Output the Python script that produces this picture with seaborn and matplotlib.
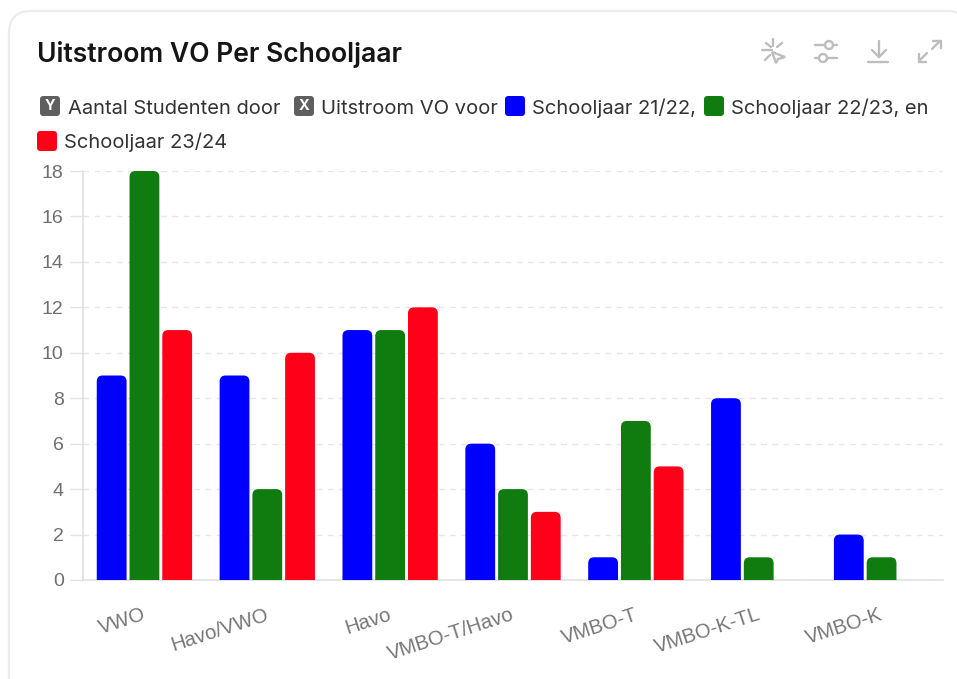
import matplotlib
matplotlib.use("Agg")
import matplotlib.pyplot as plt
from matplotlib.patches import FancyBboxPatch, Circle, Polygon
from matplotlib.transforms import IdentityTransform, ScaledTranslation
import pandas as pd
import seaborn as sns

categories = ["VWO", "Havo/VWO", "Havo", "VMBO-T/Havo", "VMBO-T", "VMBO-K-TL", "VMBO-K"]
years = ["Schooljaar 21/22", "Schooljaar 22/23", "Schooljaar 23/24"]
y2122 = [9, 9, 11, 6, 1, 8, 2]
y2223 = [18, 4, 11, 4, 7, 1, 1]
y2324 = [11, 10, 12, 3, 5, 0, 0]
colors = ["#0000ff", "#107c10", "#ff0019"]
y_ticks = [0, 2, 4, 6, 8, 10, 12, 14, 16, 18]

W, H = 957, 679

df = pd.DataFrame({"cat": categories, years[0]: y2122, years[1]: y2223, years[2]: y2324})
df = df.melt(id_vars="cat", var_name="year", value_name="n")

sns.set_theme(style="white")
plt.rcParams["font.family"] = ["Inter", "DejaVu Sans"]

fig = plt.figure(figsize=(W / 100, H / 100), dpi=100)

# overlay in pixel coords for the card, legend and toolbar
bg = fig.add_axes([0, 0, 1, 1], zorder=0)
bg.set_xlim(0, W)
bg.set_ylim(H, 0)
bg.axis("off")
bg.add_patch(FancyBboxPatch((9, 11), 960, 690, boxstyle="round,pad=0,rounding_size=22",
                            fc="white", ec="#ececec", lw=1.6, clip_on=True))

ax = fig.add_axes([83 / W, 1 - 580 / H, 860 / W, 409 / H], zorder=1)
ax.patch.set_alpha(0)
sns.barplot(data=df, x="cat", y="n", hue="year", palette=colors, hue_order=years,
            order=categories, width=0.8, gap=0.09, saturation=1, legend=False, ax=ax, zorder=3)
ax.set_xlim(-0.5, 6.5)
ax.set_ylim(0, 18)
ax.set_xlabel("")
ax.set_ylabel("")

ax.set_yticks(y_ticks)
ax.set_yticklabels(y_ticks, family="Liberation Sans", fontsize=14, color="#6f6f6f")
ax.tick_params(axis="y", length=9.4, width=1, color="#e4e4e4", pad=4.5, left=True)
ax.tick_params(axis="x", length=0, pad=18)
ax.set_xticks(range(len(categories)))
ax.set_xticklabels(categories, family="Liberation Sans", fontsize=14.6, color="#777777",
                   rotation=18, ha="right", rotation_mode="anchor")
shift = ScaledTranslation(-2 / 100, 0, fig.dpi_scale_trans)
for lab in ax.get_xticklabels():
    lab.set_transform(lab.get_transform() + shift)
ax.grid(axis="y", color="#e6e6e6", ls=(0, (4, 4)), lw=1, zorder=0)
ax.set_axisbelow(True)
for s in ["top", "right"]:
    ax.spines[s].set_visible(False)
for s in ["left", "bottom"]:
    ax.spines[s].set_color("#e0e0e0")
    ax.spines[s].set_linewidth(1.2)

# rounded tops: swap each bar for a rounded box clipped at the baseline
fig.canvas.draw()
for bar in list(ax.patches):
    if bar.get_height() <= 0:
        bar.remove()
        continue
    (x0, y0), (x1, y1) = ax.transData.transform(
        [(bar.get_x(), 0), (bar.get_x() + bar.get_width(), bar.get_height())])
    box = FancyBboxPatch((x0, y0 - 12), x1 - x0, y1 - y0 + 12,
                         boxstyle="round,pad=0,rounding_size=6", fc=bar.get_facecolor(),
                         ec="none", transform=IdentityTransform(), zorder=3)
    ax.add_patch(box)
    box.set_transform(IdentityTransform())
    box.set_clip_path(ax.patch)
    bar.remove()

# title
bg.text(37, 55, "Uitstroom VO Per Schooljaar", fontsize=19.1, fontweight="semibold",
        color="#151515", va="center", ha="left")


def swatch(x, y, color):
    bg.add_patch(FancyBboxPatch((x, y), 20, 20, boxstyle="round,pad=0,rounding_size=3.5",
                                fc=color, ec="none"))


# legend rows
for x, y, letter in [(40, 96, "Y"), (294, 96, "X")]:
    swatch(x, y, "#5f5f5f")
    bg.text(x + 10, y + 10.5, letter, color="white", fontsize=10.5, fontweight="bold",
            ha="center", va="center")
swatch(505, 96, colors[0])
swatch(704, 96, colors[1])
swatch(37, 131, colors[2])
legend_texts = [(68, 107, "Aantal Studenten door"), (321, 107, "Uitstroom VO voor"),
                (532, 107, "Schooljaar 21/22,"), (731, 107, "Schooljaar 22/23, en"),
                (64, 141, "Schooljaar 23/24")]
for x, y, t in legend_texts:
    bg.text(x, y + 1.5, t, fontsize=14.5, color="#333333", va="center", ha="left")

# toolbar icons
ic = dict(color="#bdbdbd", lw=1.7, solid_capstyle="round")
for xs, ys in [((762, 772), (50, 50)), ((766, 771), (43, 47)), ((773, 773), (39, 46)),
               ((782, 777), (43, 47)), ((765, 770), (60, 55))]:
    bg.plot(xs, ys, **ic)
bg.add_patch(Polygon([(772, 52), (785, 57), (778, 59), (776, 63)], closed=True,
                     fc="none", ec="#bdbdbd", lw=1.7))
bg.plot([815, 825], [45, 45], **ic)
bg.plot([833, 837], [45, 45], **ic)
bg.plot([815, 818], [58, 58], **ic)
bg.plot([827, 837], [58, 58], **ic)
bg.add_patch(Circle((829, 45), 4, fc="white", ec="#bdbdbd", lw=1.7))
bg.add_patch(Circle((823, 58), 4, fc="white", ec="#bdbdbd", lw=1.7))
bg.plot([879, 879], [41, 57], **ic)
bg.plot([872, 879, 886], [50, 57, 50], **ic)
bg.plot([868, 888], [62, 62], **ic)
bg.plot([919, 927], [61, 53], **ic)
bg.plot([919, 919, 926], [54, 62, 62], **ic)
bg.plot([932, 940], [49, 41], **ic)
bg.plot([933, 941, 941], [41, 41, 48], **ic)

fig.savefig("out.png", dpi=100)
